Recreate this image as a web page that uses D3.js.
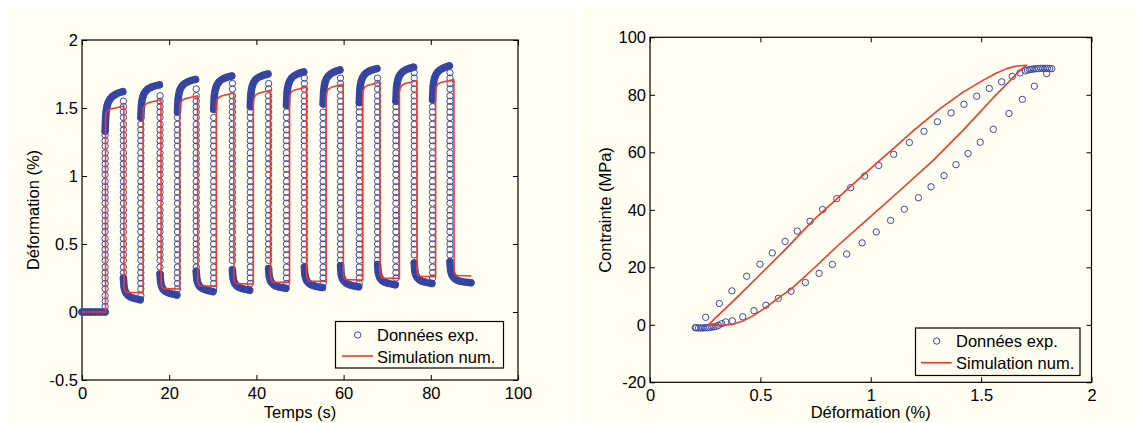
<!DOCTYPE html>
<html><head><meta charset="utf-8">
<script src="https://cdn.jsdelivr.net/npm/d3@7"></script>
<style>body{margin:0;background:#fff}svg{display:block}</style>
</head><body><svg id="c" width="1138" height="423"></svg>
<script>
// ================= LEFT CHART : Déformation (%) vs Temps (s) =================
const timeTicks = [0, 20, 40, 60, 80, 100];
const strainTicks = [-0.5, 0, 0.5, 1, 1.5, 2];

// experimental data (blue rings)
const expInitialT = [0, 1, 2, 3, 4, 5.3];
const expInitialS = [0, 0, 0, 0, 0, 0];
const expRiseT = [5.3, 13.5, 21.9, 30.2, 38.6, 46.9, 55.3, 63.6, 72.0, 80.4];
const expDropT = [9.5, 17.9, 26.2, 34.5, 42.8, 51.0, 59.3, 67.8, 76.2, 84.4];
const expPlateauT = [
  [5.3, 5.45, 5.8, 6.5, 7.7, 9.35],
  [13.5, 13.65, 14.0, 14.7, 15.9, 17.75],
  [21.9, 22.05, 22.4, 23.1, 24.3, 26.05],
  [30.2, 30.35, 30.7, 31.4, 32.6, 34.35],
  [38.6, 38.75, 39.1, 39.8, 41.0, 42.65],
  [46.9, 47.05, 47.4, 48.1, 49.3, 50.85],
  [55.3, 55.45, 55.8, 56.5, 57.7, 59.15],
  [63.6, 63.75, 64.1, 64.8, 66.0, 67.65],
  [72.0, 72.15, 72.5, 73.2, 74.4, 76.05],
  [80.4, 80.55, 80.9, 81.6, 82.8, 84.25]];
const expPlateauS = [
  [1.33, 1.446, 1.519, 1.568, 1.60, 1.62],
  [1.43, 1.526, 1.586, 1.627, 1.653, 1.67],
  [1.47, 1.566, 1.626, 1.667, 1.693, 1.71],
  [1.49, 1.588, 1.649, 1.691, 1.718, 1.735],
  [1.51, 1.606, 1.666, 1.707, 1.733, 1.75],
  [1.52, 1.618, 1.679, 1.721, 1.748, 1.765],
  [1.53, 1.63, 1.693, 1.735, 1.763, 1.78],
  [1.54, 1.64, 1.703, 1.745, 1.773, 1.79],
  [1.55, 1.65, 1.713, 1.755, 1.783, 1.80],
  [1.56, 1.66, 1.723, 1.765, 1.793, 1.81]];
const expValleyT = [
  [9.5, 9.65, 10.0, 10.7, 11.9, 13.35],
  [17.9, 18.05, 18.4, 19.1, 20.3, 21.75],
  [26.2, 26.35, 26.7, 27.4, 28.6, 30.05],
  [34.5, 34.65, 35.0, 35.7, 36.9, 38.45],
  [42.8, 42.95, 43.3, 44.0, 45.2, 46.75],
  [51.0, 51.15, 51.5, 52.2, 53.4, 55.15],
  [59.3, 59.45, 59.8, 60.5, 61.7, 63.45],
  [67.8, 67.95, 68.3, 69.0, 70.2, 71.85],
  [76.2, 76.35, 76.7, 77.4, 78.6, 80.25],
  [84.4, 84.55, 84.9, 85.6, 86.8, 89.2]];
const expValleyS = [
  [0.25, 0.186, 0.146, 0.119, 0.101, 0.09],
  [0.28, 0.218, 0.179, 0.153, 0.136, 0.125],
  [0.30, 0.24, 0.203, 0.177, 0.161, 0.15],
  [0.31, 0.25, 0.213, 0.187, 0.171, 0.16],
  [0.32, 0.262, 0.225, 0.2, 0.184, 0.174],
  [0.33, 0.27, 0.233, 0.207, 0.191, 0.18],
  [0.34, 0.278, 0.24, 0.214, 0.197, 0.186],
  [0.35, 0.29, 0.253, 0.227, 0.211, 0.20],
  [0.36, 0.30, 0.263, 0.237, 0.221, 0.21],
  [0.37, 0.308, 0.27, 0.243, 0.226, 0.215]];
// strain levels of the rings seen along the (near vertical) loading / unloading ramps
const rampLevels = [0.04,0.08,0.12,0.17,0.21,0.25,0.29,0.33,0.38,0.42,0.46,0.50,0.54,0.59,0.63,0.67,0.71,0.75,0.80,0.84,0.88,0.92,0.96,1.01,1.05,1.09,1.13,1.17,1.22,1.26,1.30,1.34,1.38,1.43,1.47,1.51,1.55,1.59,1.64,1.68,1.72,1.76];

// numerical simulation (red line)
const simTime = [0, 5.4,
  5.4, 5.55, 5.9, 6.6, 9.6,   9.65, 9.85, 10.3, 14.0,
  14.0, 14.15, 14.5, 15.2, 18.1,   18.15, 18.35, 18.8, 22.4,
  22.4, 22.55, 22.9, 23.6, 26.5,   26.55, 26.75, 27.2, 30.8,
  30.8, 30.95, 31.3, 32.0, 34.8,   34.85, 35.05, 35.5, 39.3,
  39.3, 39.45, 39.8, 40.5, 43.2,   43.25, 43.45, 43.9, 47.6,
  47.6, 47.75, 48.1, 48.8, 51.5,   51.55, 51.75, 52.2, 56.0,
  56.0, 56.15, 56.5, 57.2, 59.9,   59.95, 60.15, 60.6, 64.4,
  64.4, 64.55, 64.9, 65.6, 68.3,   68.35, 68.55, 69.0, 72.8,
  72.8, 72.95, 73.3, 74.0, 76.8,   76.85, 77.05, 77.5, 81.1,
  81.1, 81.25, 81.6, 82.3, 85.3,   85.35, 85.55, 86.0, 89.3];
const simStrain = [0, 0,
  1.435, 1.46, 1.48, 1.493, 1.515,   0.182, 0.154, 0.145, 0.142,
  1.48, 1.505, 1.525, 1.538, 1.56,   0.209, 0.181, 0.172, 0.169,
  1.51, 1.535, 1.555, 1.568, 1.59,   0.23, 0.202, 0.193, 0.19,
  1.53, 1.555, 1.575, 1.588, 1.61,   0.246, 0.218, 0.209, 0.206,
  1.55, 1.575, 1.595, 1.608, 1.63,   0.258, 0.23, 0.221, 0.218,
  1.575, 1.60, 1.62, 1.633, 1.655,   0.265, 0.237, 0.228, 0.225,
  1.594, 1.619, 1.639, 1.652, 1.674,   0.275, 0.247, 0.238, 0.235,
  1.61, 1.635, 1.655, 1.668, 1.69,   0.287, 0.259, 0.25, 0.247,
  1.62, 1.645, 1.665, 1.678, 1.70,   0.30, 0.272, 0.263, 0.26,
  1.63, 1.655, 1.675, 1.688, 1.71,   0.305, 0.277, 0.268, 0.265];

// ================= RIGHT CHART : Contrainte (MPa) vs Déformation (%) =================
const defTicks = [0, 0.5, 1, 1.5, 2];
const stressTicks = [-20, 0, 20, 40, 60, 80, 100];
const loopStrain = [
  0.252,0.314,0.371,0.438,0.498,0.554,0.612,0.667,0.725,0.782,0.846,0.909,0.972,1.036,1.104,1.175,1.241,1.302,1.364,1.422,1.48,1.537,1.593,1.641,1.676,1.70,
  1.71,1.72,1.73,1.74,1.75,1.76,1.77,1.78,1.79,1.80,1.81,1.82,
  1.797,1.741,1.687,1.626,1.555,1.496,1.441,1.386,1.332,1.273,1.216,1.152,1.09,1.025,0.961,0.891,0.826,0.766,0.704,0.639,0.581,0.525,0.471,0.42,0.373,0.343,
  0.325,0.31,0.30,0.29,0.28,0.27,0.26,0.25,0.24,0.23,0.22,0.21,0.205];
const loopStress = [
  2.6,7.4,11.8,16.9,21.1,25.0,29.0,32.6,36.0,40.1,43.9,47.7,51.7,55.4,59.3,63.4,67.3,70.6,73.7,76.7,79.5,82.2,84.5,86.4,87.6,88.3,
  88.6,88.8,88.9,89.0,89.1,89.1,89.2,89.2,89.2,89.2,89.1,89.1,
  87.4,83.0,78.4,73.5,68.0,63.5,59.6,55.7,51.9,48.0,44.2,40.2,36.3,32.3,28.5,24.6,21.0,17.9,14.7,11.7,9.2,6.8,4.9,2.8,1.4,1.0,
  0.4,-0.2,-0.5,-0.7,-0.8,-0.9,-1.0,-1.0,-1.1,-1.1,-1.1,-1.0,-1.0];
const loopSimStrain = [0.264,0.4,0.5,0.6,0.74,0.906,1.042,1.102,1.2,1.314,1.42,1.51,1.57,1.616,1.66,1.706,
  1.676,1.6,1.555,1.419,1.283,1.133,0.981,0.85,0.74,0.64,0.589,0.52,0.468,0.42,0.377,0.33,0.3,0.264];
const loopSimStress = [0,10,17.6,25.2,36.4,48,57.3,61.3,68,75.2,81,85.1,87.6,89.1,90,90.3,
  88.5,82.5,79,67.7,57.2,46.8,36.4,27.5,19.5,12.5,9.7,5.8,3.2,1.3,0.2,-0.2,-0.1,0];

const legendLabels = ["Données exp.", "Simulation num."];

// ================= drawing =================
const CREAM = "#fffef0", BLUE = "#3a49a8", BAND = "#3343a0", RED = "#f2382f";
const FONT = "'Liberation Sans', Arial, Helvetica, sans-serif", FS = 16.5;
const svg = d3.select("#c");
svg.append("rect").attr("width", 1138).attr("height", 423).attr("fill", "#fff");
svg.append("rect").attr("x", 8).attr("y", 7).attr("width", 566).attr("height", 416).attr("fill", CREAM);
svg.append("rect").attr("x", 580).attr("y", 5).attr("width", 558).attr("height", 418).attr("fill", CREAM);

const xL = d3.scaleLinear().domain([0, 100]).range([82, 518]);
const yL = d3.scaleLinear().domain([-0.5, 2]).range([380, 40]);
const xR = d3.scaleLinear().domain([0, 2]).range([650, 1091.5]);
const yR = d3.scaleLinear().domain([-20, 100]).range([382.3, 37.3]);

function frame(x, y, xt, yt) {
  const [x0, x1] = x.range(), [y0, y1] = y.range();
  const fmt = d => String(d);
  const gs = [
    svg.append("g").attr("transform", `translate(0,${y0})`).call(d3.axisBottom(x).tickValues(xt).tickFormat(fmt).tickSize(-5).tickPadding(7)),
    svg.append("g").attr("transform", `translate(0,${y1})`).call(d3.axisTop(x).tickValues(xt).tickFormat("").tickSize(-5)),
    svg.append("g").attr("transform", `translate(${x0},0)`).call(d3.axisLeft(y).tickValues(yt).tickFormat(fmt).tickSize(-5).tickPadding(4)),
    svg.append("g").attr("transform", `translate(${x1},0)`).call(d3.axisRight(y).tickValues(yt).tickFormat("").tickSize(-5))
  ];
  gs.forEach(g => {
    g.attr("font-size", FS).attr("font-family", FONT);
    g.select(".domain").remove();
    g.selectAll("line").attr("stroke", "#000").attr("stroke-width", 1);
    g.selectAll("text").attr("fill", "#000");
  });
  svg.append("rect").attr("x", x0).attr("y", y1).attr("width", x1 - x0).attr("height", y0 - y1)
    .attr("fill", "none").attr("stroke", "#000").attr("stroke-width", 1.2);
}

function ring(g, cx, cy) {
  g.append("circle").attr("cx", cx).attr("cy", cy).attr("r", 3.2)
    .attr("fill", "none").attr("stroke", BLUE).attr("stroke-width", 1);
}

function legend(bx, by, bw, bh, ringX, ringY, lineX0, lineX1, lineY, textX, base1, base2) {
  const g = svg.append("g");
  g.append("rect").attr("x", bx).attr("y", by).attr("width", bw).attr("height", bh)
    .attr("fill", CREAM).attr("stroke", "#000").attr("stroke-width", 1.2);
  ring(g, ringX, ringY);
  g.append("line").attr("x1", lineX0).attr("x2", lineX1).attr("y1", lineY).attr("y2", lineY)
    .attr("stroke", RED).attr("stroke-width", 1.6);
  g.append("text").attr("x", textX).attr("y", base1).text(legendLabels[0]);
  g.append("text").attr("x", textX).attr("y", base2).text(legendLabels[1]);
  g.selectAll("text").attr("font-family", FONT).attr("font-size", FS).attr("fill", "#000");
}

// ---------- left chart ----------
frame(xL, yL, timeTicks, strainTicks);
const gL = svg.append("g");
const band = d3.line().x(d => xL(d[0])).y(d => yL(d[1])).curve(d3.curveMonotoneX);
function drawBand(ts, ss) {
  const pts = ts.map((t, i) => [t, ss[i]]);
  gL.append("path").attr("d", band(pts)).attr("fill", "none").attr("stroke", BAND)
    .attr("stroke-width", 7.5).attr("stroke-linecap", "round").attr("stroke-linejoin", "round");
  pts.forEach(p => ring(gL, xL(p[0]), yL(p[1])));
}
drawBand(expInitialT, expInitialS);
expRiseT.forEach((tr, k) => {
  const lo = k === 0 ? expInitialS[expInitialS.length - 1] : expValleyS[k - 1][5];
  const hi = expPlateauS[k][0];
  rampLevels.filter(v => v > lo + 0.02 && v < hi - 0.02).forEach(v => ring(gL, xL(tr), yL(v)));
  drawBand(expPlateauT[k], expPlateauS[k]);
  const td = expDropT[k], top = expPlateauS[k][5], bot = expValleyS[k][0];
  rampLevels.filter(v => v > bot + 0.02 && v < top - 0.03).forEach(v => ring(gL, xL(td), yL(v)));
  drawBand(expValleyT[k], expValleyS[k]);
});
const simLine = d3.line().x((d, i) => xL(simTime[i])).y((d, i) => yL(simStrain[i]));
svg.append("path").attr("d", simLine(simTime)).attr("fill", "none").attr("stroke", RED)
  .attr("stroke-width", 1.6).attr("stroke-linejoin", "round");

svg.append("text").attr("x", 300).attr("y", 418).attr("text-anchor", "middle")
  .attr("font-family", FONT).attr("font-size", FS).text("Temps (s)");
svg.append("text").attr("transform", "translate(39,210) rotate(-90)").attr("text-anchor", "middle")
  .attr("font-family", FONT).attr("font-size", FS).text("Déformation (%)");
legend(335.5, 321.5, 168, 46.5, 357.7, 335, 342, 373, 356, 377, 340.7, 362.5);

// ---------- right chart ----------
frame(xR, yR, defTicks, stressTicks);
const gR = svg.append("g");
loopStrain.forEach((s, i) => ring(gR, xR(s), yR(loopStress[i])));
const loopLine = d3.line().x((d, i) => xR(loopSimStrain[i])).y((d, i) => yR(loopSimStress[i]));
svg.append("path").attr("d", loopLine(loopSimStrain)).attr("fill", "none").attr("stroke", RED)
  .attr("stroke-width", 1.6).attr("stroke-linejoin", "round");
svg.append("text").attr("x", 870.7).attr("y", 418).attr("text-anchor", "middle")
  .attr("font-family", FONT).attr("font-size", FS).text("Déformation (%)");
svg.append("text").attr("transform", "translate(611,210) rotate(-90)").attr("text-anchor", "middle")
  .attr("font-family", FONT).attr("font-size", FS).text("Contrainte (MPa)");
legend(915.5, 328, 164.5, 47.5, 936.7, 341, 921, 951.7, 362.7, 956, 347.3, 369);
</script></body></html>
